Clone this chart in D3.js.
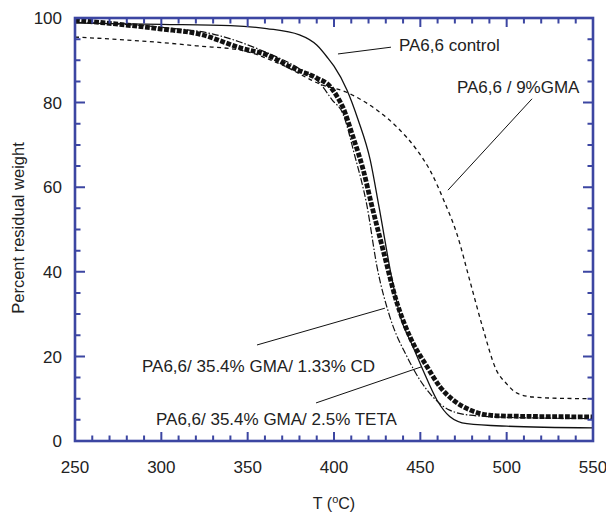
<!DOCTYPE html>
<html>
<head>
<meta charset="utf-8">
<script src="https://cdn.jsdelivr.net/npm/d3@7"></script>
<style>
  html, body { margin: 0; padding: 0; background: #fff; }
  svg text { font-family: "Liberation Sans", Arial, Helvetica, sans-serif; fill: #222; }
</style>
</head>
<body>
<svg id="chart" width="606" height="514"></svg>
<script>
// Thermogravimetric curves: temperature (°C) vs percent residual weight
const control = [
  [250, 98.8], [300, 98.5], [340, 98.2], [361, 97.5], [380, 96.0], [390, 93.6],
  [396.5, 90.5], [400, 88.6], [407.5, 83.0], [414, 75.9], [421, 66.4], [426, 55.5],
  [434, 37.4], [438.5, 29.3], [445, 23.0], [451.5, 16.8], [459.6, 9.7], [467, 5.8],
  [477, 4.1], [500, 3.5], [550, 3.1]
];
const gma9 = [
  [250, 95.5], [300, 94.2], [321, 93.4], [347, 92.3], [370, 88.9], [393, 84.2],
  [407, 82.5], [413, 81.3], [425, 78.2], [436.5, 74.2], [448, 68.8], [455.6, 64.0],
  [464, 56.5], [471, 49.2], [479, 37.4], [486, 27.0], [494, 16.8], [500, 13.5],
  [506, 11.3], [515, 10.4], [530, 10.1], [550, 10.0]
];
const cd = [
  [250, 99.0], [300, 97.8], [330, 96.2], [360, 92.0], [380, 88.0], [392, 84.5],
  [399, 80.6], [405, 77.5], [412, 67.5], [419, 55.8], [425, 41.0], [432.4, 29.3],
  [442.3, 19.9], [449.8, 14.4], [457.3, 10.4], [467, 7.3], [479, 6.1], [500, 5.6],
  [550, 5.3]
];
const teta = [
  [250, 99.5], [300, 97.4], [322, 96.2], [346, 92.9], [361, 91.3], [376, 88.2],
  [390, 85.8], [398, 83.7], [402, 81.3], [405, 79.0], [411, 71.9], [417, 64.0],
  [421.5, 56.3], [428.4, 45.2], [436.5, 32.6], [444, 24.6], [454, 17.5], [461.4, 12.8],
  [469, 9.7], [479, 7.3], [490, 6.1], [500, 5.9], [550, 5.7]
];

const xTicks = [250, 300, 350, 400, 450, 500, 550];
const yTicks = [0, 20, 40, 60, 80, 100];

// Callout labels: text anchor point and leader line ends, in data units
const labels = [
  { text: "PA6,6 control", at: [437.6, 92.3], from: [433, 93.1], to: [402.3, 91.5] },
  { text: "PA6,6 / 9%GMA", at: [471.2, 82.3], from: [514.7, 80.9], to: [466, 59.3] },
  { text: "PA6,6/ 35.4% GMA/ 1.33% CD", at: [288.8, 16.3], from: [355.4, 22.7], to: [429.5, 31.4] },
  { text: "PA6,6/ 35.4% GMA/ 2.5% TETA", at: [296.9, 3.8], from: [389.6, 9.0], to: [450.4, 17.5] }
];

const svg = d3.select("#chart");
const plotLeft = 75, plotRight = 593, plotTop = 18, plotBottom = 441;
const axisBlue = "#3c46a2";

const x = d3.scaleLinear().domain([250, 550]).range([plotLeft, plotRight]);
const y = d3.scaleLinear().domain([0, 100]).range([plotBottom, plotTop]);

const line = d3.line()
  .x(d => x(d[0])).y(d => y(d[1]))
  .curve(d3.curveMonotoneX);

const plot = svg.append("g");

// Series
plot.append("path").datum(gma9).attr("d", line)
  .attr("fill", "none").attr("stroke", "#111").attr("stroke-width", 1.3)
  .attr("stroke-dasharray", "4,3.5");
plot.append("path").datum(cd).attr("d", line)
  .attr("fill", "none").attr("stroke", "#111").attr("stroke-width", 1.2)
  .attr("stroke-dasharray", "7,2,1.5,2");
plot.append("path").datum(teta).attr("d", line)
  .attr("fill", "none").attr("stroke", "#111").attr("stroke-width", 4.8)
  .attr("stroke-dasharray", "4.8,1.6");
plot.append("path").datum(control).attr("d", line)
  .attr("fill", "none").attr("stroke", "#111").attr("stroke-width", 1.3);

// Callouts
labels.forEach(l => {
  plot.append("line")
    .attr("x1", x(l.from[0])).attr("y1", y(l.from[1]))
    .attr("x2", x(l.to[0])).attr("y2", y(l.to[1]))
    .attr("stroke", "#111").attr("stroke-width", 1);
  plot.append("text")
    .attr("x", x(l.at[0])).attr("y", y(l.at[1]))
    .attr("font-size", 17).text(l.text);
});

// frame
svg.append("rect")
  .attr("x", plotLeft).attr("y", plotTop)
  .attr("width", plotRight - plotLeft).attr("height", plotBottom - plotTop)
  .attr("fill", "none").attr("stroke", axisBlue).attr("stroke-width", 2.6);

// Inward-pointing ticks on all four sides: major every 50 °C / 20 %, minor every 10 °C / 5 %
const xTickVals = d3.range(250, 551, 10);
const yTickVals = d3.range(0, 101, 5);
const xLen = v => (v % 50 === 0 ? 9 : 5.5);
const yLen = v => (v % 20 === 0 ? 10 : 5.5);

function tickPath(x1, y1, x2, y2) { return `M${x1},${y1}L${x2},${y2}`; }
const tickD = []
  .concat(xTickVals.map(v => tickPath(x(v), plotBottom, x(v), plotBottom - xLen(v))))
  .concat(xTickVals.map(v => tickPath(x(v), plotTop, x(v), plotTop + xLen(v))))
  .concat(yTickVals.map(v => tickPath(plotLeft, y(v), plotLeft + yLen(v), y(v))))
  .concat(yTickVals.map(v => tickPath(plotRight, y(v), plotRight - yLen(v), y(v))))
  .join("");
svg.append("path").attr("d", tickD)
  .attr("fill", "none").attr("stroke", axisBlue).attr("stroke-width", 2);

// tick labels
svg.append("g").selectAll("text").data(xTicks).join("text")
  .attr("x", d => x(d)).attr("y", plotBottom + 32)
  .attr("text-anchor", "middle").attr("font-size", 17)
  .text(d => d);
svg.append("g").selectAll("text").data(yTicks).join("text")
  .attr("x", plotLeft - 13).attr("y", d => y(d)).attr("dy", "0.36em")
  .attr("text-anchor", "end").attr("font-size", 17)
  .text(d => d);

// axis titles
const xt = svg.append("text")
  .attr("x", (plotLeft + plotRight) / 2).attr("y", 509)
  .attr("text-anchor", "middle").attr("font-size", 16);
xt.append("tspan").text("T (");
xt.append("tspan").attr("font-size", 11).attr("dy", -6).text("o");
xt.append("tspan").attr("dy", 6).text("C)");

svg.append("text")
  .attr("transform", `translate(24,228) rotate(-90)`)
  .attr("text-anchor", "middle").attr("font-size", 16.5)
  .text("Percent residual weight");
</script>
</body>
</html>
